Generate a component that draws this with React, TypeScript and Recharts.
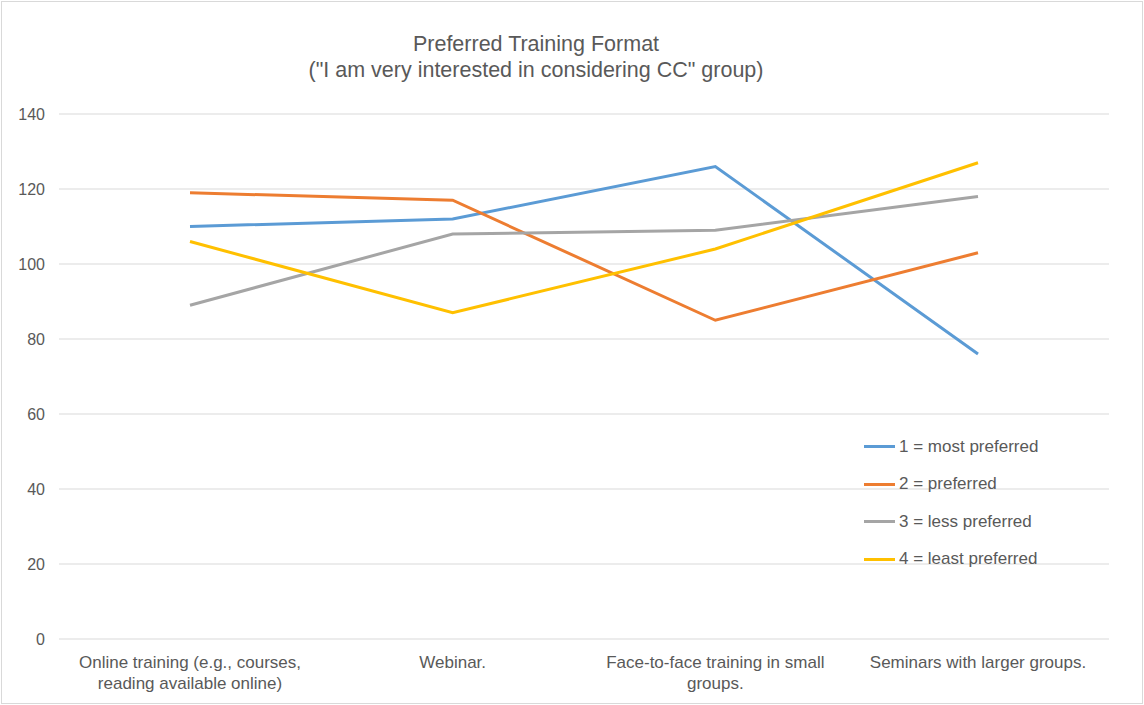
import React from "react";
import { LineChart, Line, XAxis, YAxis, CartesianGrid, Text } from "recharts";

const categories = [
  "Online training (e.g., courses, reading available online)",
  "Webinar.",
  "Face-to-face training in small groups.",
  "Seminars with larger groups.",
];
const mostPreferred = [110, 112, 126, 76];
const preferred = [119, 117, 85, 103];
const lessPreferred = [89, 108, 109, 118];
const leastPreferred = [106, 87, 104, 127];
const yTicks = [0, 20, 40, 60, 80, 100, 120, 140];

const series = [
  { key: "s1", name: "1 = most preferred", color: "#5B9BD5", values: mostPreferred },
  { key: "s2", name: "2 = preferred", color: "#ED7D31", values: preferred },
  { key: "s3", name: "3 = less preferred", color: "#A5A5A5", values: lessPreferred },
  { key: "s4", name: "4 = least preferred", color: "#FFC000", values: leastPreferred },
];

const data = categories.map((cat, i) => {
  const row: Record<string, string | number> = { cat };
  series.forEach(s => {
    row[s.key] = s.values[i];
  });
  return row;
});

const FONT = "'Liberation Sans', Arial, sans-serif";
const TEXT = "#595959";

const CatTick = ({ x, y, payload }: any) => (
  <Text
    x={x}
    y={y + 9}
    width={240}
    textAnchor="middle"
    verticalAnchor="start"
    lineHeight={21}
    fontSize={17}
    fontFamily={FONT}
    fill={TEXT}
  >
    {payload.value}
  </Text>
);

export default function App() {
  return (
    <div
      style={{
        position: "absolute",
        left: 0,
        top: 0,
        width: 1144,
        height: 705,
        background: "#fff",
        fontFamily: FONT,
      }}
    >
      <div
        style={{
          position: "absolute",
          left: 1,
          top: 1,
          width: 1140,
          height: 701,
          border: "1px solid #d9d9d9",
        }}
      />
      <div
        style={{
          position: "absolute",
          left: 186,
          width: 700,
          top: 31,
          textAlign: "center",
          fontSize: 21.5,
          lineHeight: "26px",
          color: TEXT,
        }}
      >
        Preferred Training Format
        <br />
        ("I am very interested in considering CC" group)
      </div>

      <LineChart
        width={1144}
        height={705}
        data={data}
        margin={{ top: 114, right: 35, bottom: 0, left: 0 }}
      >
        <CartesianGrid horizontal vertical={false} stroke="#d9d9d9" strokeWidth={1} />
        <XAxis
          dataKey="cat"
          height={66}
          padding={{ left: 131, right: 131 }}
          axisLine={false}
          tickLine={false}
          interval={0}
          tick={<CatTick />}
        />
        <YAxis
          width={59}
          domain={[0, 140]}
          ticks={yTicks}
          axisLine={false}
          tickLine={false}
          tickMargin={8}
          tick={{ fontSize: 16, fontFamily: FONT, fill: TEXT }}
        />
        {series.map(s => (
          <Line
            key={s.key}
            dataKey={s.key}
            name={s.name}
            type="linear"
            stroke={s.color}
            strokeWidth={3}
            dot={false}
            activeDot={false}
            isAnimationActive={false}
          />
        ))}
      </LineChart>

      <div style={{ position: "absolute", left: 864, top: 428 }}>
        {series.map(s => (
          <div
            key={s.key}
            style={{ display: "flex", alignItems: "center", height: 37.5, fontSize: 17, color: TEXT }}
          >
            <div style={{ width: 31, height: 3, background: s.color, marginRight: 4 }} />
            {s.name}
          </div>
        ))}
      </div>
    </div>
  );
}
